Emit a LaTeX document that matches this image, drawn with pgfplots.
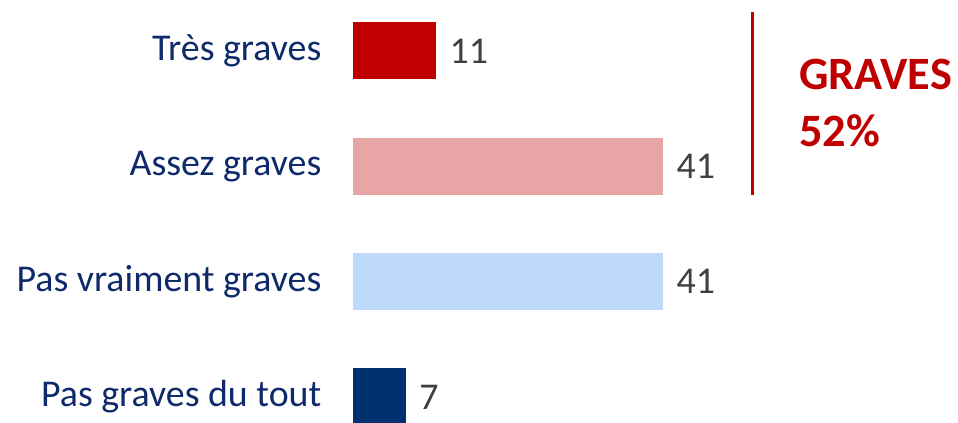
\documentclass[border=0pt]{standalone}
\usepackage{fontspec}
\setmainfont{Carlito}
\usepackage{pgfplots}
\pgfplotsset{compat=1.18}
\definecolor{c1}{HTML}{C00000}
\definecolor{c2}{HTML}{E8A5A6}
\definecolor{c3}{HTML}{BDDAFC}
\definecolor{c4}{HTML}{003070}
\definecolor{navy}{HTML}{0E2A6A}
\definecolor{gr}{HTML}{404040}
\begin{document}
\begin{tikzpicture}[x=1bp,y=1bp]
\begin{axis}[
  at={(353bp,0bp)}, anchor=south west,
  scale only axis, width=605bp, height=422bp,
  xmin=0, xmax=80, ymin=-0.2168, ymax=3.442,
  axis line style={draw=none}, tick style={draw=none},
  xtick=\empty, ytick={0,1,2,3},
  yticklabels={Pas graves du tout, Pas vraiment graves, Assez graves, Très graves},
  yticklabel style={font=\fontsize{38}{42}\selectfont, text=navy, xshift=-24bp},
  xbar, bar width=57bp, bar shift=0pt,
  /pgf/number format/assume math mode=true,
  nodes near coords, nodes near coords style={font=\fontsize{38}{42}\selectfont, text=gr, anchor=west, xshift=10bp},
  clip=false,
]
\addplot[fill=c1, draw=none] coordinates {(11,3)};
\addplot[fill=c2, draw=none] coordinates {(41,2)};
\addplot[fill=c3, draw=none] coordinates {(41,1)};
\addplot[fill=c4, draw=none] coordinates {(7,0)};
\end{axis}
\draw[c1, line width=3bp] (752,410) -- (752,227);
\node[anchor=base west, inner sep=0, text=c1, font=\fontsize{46.5}{50}\selectfont\bfseries] at (799,333) {GRAVES};
\node[anchor=base west, inner sep=0, text=c1, font=\fontsize{46.5}{50}\selectfont\bfseries] at (799,276) {52\%};
\pgfresetboundingbox
\useasboundingbox (0,0) rectangle (958,422);
\end{tikzpicture}
\end{document}
